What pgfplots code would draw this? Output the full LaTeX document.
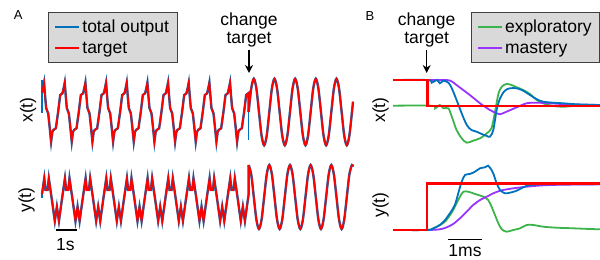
\documentclass[border=0pt]{standalone}
\usepackage{pgfplots}
\usepackage{pgfplotstable}
\pgfplotsset{compat=1.18}
\usetikzlibrary{arrows.meta}
\usepackage{fontspec}
\setmainfont{Liberation Sans}
\definecolor{mblue}{RGB}{0,114,189}
\definecolor{mred}{RGB}{255,0,0}
\definecolor{mgreen}{RGB}{60,180,75}
\definecolor{mpurple}{RGB}{153,51,255}
\definecolor{legfill}{RGB}{217,217,217}
\newcommand\lab{\fontsize{17.5bp}{20bp}\selectfont}

% Panel A, x(t): complex periodic target (t in s)
\pgfplotstableread{
t v
0 19.5
0.05 24
0.10 29.3
0.15 16
0.20 4
0.30 -1.5
0.37 -15
0.44 -29.7
0.50 -20
0.55 -18
0.67 -16.3
0.78 0
0.88 17
0.99 18.7
1.05 24
1.10 29.3
1.15 16
1.20 4
1.30 -1.5
1.37 -15
1.44 -29.7
1.50 -20
1.55 -18
1.67 -16.3
1.78 0
1.88 17
1.99 18.7
2.05 24
2.10 29.3
2.15 16
2.20 4
2.30 -1.5
2.37 -15
2.44 -29.7
2.50 -20
2.55 -18
2.67 -16.3
2.78 0
2.88 17
2.99 18.7
3.05 24
3.10 29.3
3.15 16
3.20 4
3.30 -1.5
3.37 -15
3.44 -29.7
3.50 -20
3.55 -18
3.67 -16.3
3.78 0
3.88 17
3.99 18.7
4.05 24
4.10 29.3
4.15 16
4.20 4
4.30 -1.5
4.37 -15
4.44 -29.7
4.50 -20
4.55 -18
4.67 -16.3
4.78 0
4.88 17
4.99 18.7
5.05 24
5.10 29.3
5.15 16
5.20 4
5.30 -1.5
5.37 -15
5.44 -29.7
5.50 -20
5.55 -18
5.67 -16.3
5.78 0
5.88 17
5.99 18.7
6.05 24
6.10 29.3
6.15 16
6.20 4
6.30 -1.5
6.37 -15
6.44 -29.7
6.50 -20
6.55 -18
6.67 -16.3
6.78 0
6.88 17
6.99 18.7
7.05 24
7.10 29.3
7.15 16
7.20 4
7.30 -1.5
7.37 -15
7.44 -29.7
7.50 -20
7.55 -18
7.67 -16.3
7.78 0
7.88 17
7.99 18.7
8.05 24
8.10 29.3
8.15 16
8.20 4
8.30 -1.5
8.37 -15
8.44 -29.7
8.50 -20
8.55 -18
8.67 -16.3
8.78 0
8.88 17
8.99 18.7
9.05 24
9.10 29.3
9.15 16
9.20 4
9.30 -1.5
9.37 -15
9.44 -29.7
9.50 -20
9.55 -18
9.67 -16.3
9.78 0
9.88 17
10.0 19
10.0 0
}\axc

\pgfplotstableread{
t v
10.000 0
10.125 23.5
10.250 33.3
10.375 23.5
10.500 0
10.625 -23.5
10.750 -33.3
10.875 -23.5
11.000 0
11.125 23.5
11.250 33.3
11.375 23.5
11.500 0
11.625 -23.5
11.750 -33.3
11.875 -23.5
12.000 0
12.125 23.5
12.250 33.3
12.375 23.5
12.500 0
12.625 -23.5
12.750 -33.3
12.875 -23.5
13.000 0
13.125 23.5
13.250 33.3
13.375 23.5
13.500 0
13.625 -23.5
13.750 -33.3
13.875 -23.5
14.000 0
14.125 23.5
14.250 33.3
14.375 23.5
14.500 0
14.625 -23.5
14.750 -33.3
14.875 -23.5
15.000 0
15.050 10.3
}\axs

% Panel A, y(t)
\pgfplotstableread{
t v
0 2.8
0.11 18.7
0.17 7
0.27 7
0.33 18.7
0.48 -3
0.62 -24
0.72 -9.7
0.82 -24
0.96 -3
1.11 18.7
1.17 7
1.27 7
1.33 18.7
1.48 -3
1.62 -24
1.72 -9.7
1.82 -24
1.96 -3
2.11 18.7
2.17 7
2.27 7
2.33 18.7
2.48 -3
2.62 -24
2.72 -9.7
2.82 -24
2.96 -3
3.11 18.7
3.17 7
3.27 7
3.33 18.7
3.48 -3
3.62 -24
3.72 -9.7
3.82 -24
3.96 -3
4.11 18.7
4.17 7
4.27 7
4.33 18.7
4.48 -3
4.62 -24
4.72 -9.7
4.82 -24
4.96 -3
5.11 18.7
5.17 7
5.27 7
5.33 18.7
5.48 -3
5.62 -24
5.72 -9.7
5.82 -24
5.96 -3
6.11 18.7
6.17 7
6.27 7
6.33 18.7
6.48 -3
6.62 -24
6.72 -9.7
6.82 -24
6.96 -3
7.11 18.7
7.17 7
7.27 7
7.33 18.7
7.48 -3
7.62 -24
7.72 -9.7
7.82 -24
7.96 -3
8.11 18.7
8.17 7
8.27 7
8.33 18.7
8.48 -3
8.62 -24
8.72 -9.7
8.82 -24
8.96 -3
9.11 18.7
9.17 7
9.27 7
9.33 18.7
9.48 -3
9.62 -24
9.72 -9.7
9.82 -24
9.96 -3
10.0 2.8
10.0 32
}\ayc

\pgfplotstableread{
t v
10.000 32
10.125 22.6
10.250 0
10.375 -22.6
10.500 -32
10.625 -22.6
10.750 0
10.875 22.6
11.000 32
11.125 22.6
11.250 0
11.375 -22.6
11.500 -32
11.625 -22.6
11.750 0
11.875 22.6
12.000 32
12.125 22.6
12.250 0
12.375 -22.6
12.500 -32
12.625 -22.6
12.750 0
12.875 22.6
13.000 32
13.125 22.6
13.250 0
13.375 -22.6
13.500 -32
13.625 -22.6
13.750 0
13.875 22.6
14.000 32
14.125 22.6
14.250 0
14.375 -22.6
14.500 -32
14.625 -22.6
14.750 0
14.875 22.6
15.000 32
15.050 30.4
}\ays

% Panel B, x(t) (t in ms)
\pgfplotstableread{
t v
0 26
1.01 26
1.01 0
6.09 0
}\bxred
\pgfplotstableread{
t v
0 26
1.01 26
1.58 26
1.73 24.5
1.87 21
2.26 11
2.56 2.7
2.85 -4
3.05 -7.3
3.15 -8.3
3.34 -5.7
3.64 -1.3
3.93 2.7
4.23 3.3
4.62 2.7
5.11 1.7
5.6 1.3
6.09 1
}\bxpur
\pgfplotstableread{
t v
0 26
1.02 26
1.14 23.3
1.29 26
1.38 22.7
1.48 25.3
1.63 23.3
1.73 17.7
1.87 6
2.02 -7.3
2.17 -19
2.31 -24
2.46 -25.7
2.61 -28
2.76 -30
2.85 -30.7
2.95 -24
3.05 -4
3.15 7.7
3.29 15.3
3.44 17.7
3.64 17.7
3.83 15.3
4.03 11
4.23 6.7
4.42 4.3
4.71 3.3
5.01 2.7
5.4 1.7
5.79 1.3
6.09 1
}\bxblue
\pgfplotstableread{
t v
0 0.3
1.14 0.3
1.24 -2.3
1.38 1
1.48 -2.3
1.63 -2.3
1.73 -10.7
1.87 -24
2.02 -32.3
2.17 -36.7
2.36 -34.7
2.56 -32.3
2.76 -27.3
2.9 -22
3.0 -6
3.1 12
3.2 19.3
3.34 22
3.49 21
3.64 18.7
3.83 16
4.03 12
4.23 6
4.42 2.7
4.71 0
5.01 -0.7
5.3 0
5.6 0.7
6.09 0.7
}\bxgreen

% Panel B, y(t)
\pgfplotstableread{
t v
0 0
1.0 0
1.0 46.7
6.09 46.7
}\byred
\pgfplotstableread{
t v
0 0
1.0 0
1.19 1.7
1.38 5
1.53 8.3
1.68 15
1.77 20
1.87 26.7
1.97 33.3
2.07 38.3
2.21 38.3
2.36 36.7
2.51 35
2.66 33.3
2.8 30
2.9 23.3
3.0 15
3.1 6.7
3.2 0.7
3.34 -1.7
3.54 0
3.74 1.7
3.93 5
4.13 5
4.42 3.3
4.81 2.3
5.3 1.7
5.79 1
6.09 0.7
}\bygreen
\pgfplotstableread{
t v
0 0
1.0 0
1.19 1.7
1.38 5
1.53 10
1.68 17
1.82 25
1.92 36.7
2.02 48.3
2.12 55
2.26 56
2.41 58.3
2.56 61.7
2.71 62.7
2.8 64.3
2.9 60
2.95 56.7
3.05 46.7
3.15 40
3.29 36.7
3.44 37.3
3.64 39.3
3.83 42.7
4.03 45
4.42 45.7
5.01 45.7
6.09 45.7
}\byblue
\pgfplotstableread{
t v
0 0
1.0 0
1.38 0.7
1.58 2.7
1.77 6
1.97 11.7
2.17 18.3
2.36 25
2.56 30
2.76 33.3
2.95 36.7
3.15 39.3
3.24 40
3.54 41.7
3.93 43.3
4.42 44.7
5.01 45.3
6.09 45.7
}\bypur

\begin{document}
\begin{tikzpicture}
\useasboundingbox (0bp,0bp) rectangle (600bp,260bp);
\pgfplotsset{every axis/.append style={scale only axis, hide axis, enlargelimits=false, clip=false, anchor=south west},
  legend image code/.code={\draw[#1, line width=2bp] (0bp,0bp) -- (24bp,0bp);}}

% ---------------- Panel A x(t)
\begin{axis}[at={(42bp,112bp)}, width=311bp, height=72bp,
  xmin=0, xmax=15.05, ymin=-36, ymax=36,
  legend style={at={(0.0193,1.893)}, anchor=north west, fill=legfill, draw=black!75,
    line width=0.8bp, font=\lab, inner xsep=6bp, inner ysep=5.5bp, row sep=4bp, cells={anchor=west}}]
\addplot[mblue, line width=2.4bp] table {\axc};
\addlegendentry{total output}
\addplot[mblue, line width=2.4bp, smooth, forget plot] table {\axs};
\addplot[mblue, line width=1.6bp, forget plot] coordinates {(0,32) (0,-1)};
\addplot[mblue, line width=1.6bp, forget plot] coordinates {(10,0) (10,-28)};
\addplot[mred, line width=1.7bp] table {\axc};
\addlegendentry{target}
\addplot[mred, line width=1.7bp, smooth, forget plot] table {\axs};
\end{axis}

% ---------------- Panel A y(t)
\begin{axis}[at={(42bp,27bp)}, width=311bp, height=72bp,
  xmin=0, xmax=15.05, ymin=-36, ymax=36]
\addplot[mblue, line width=2.4bp] table {\ayc};
\addplot[mblue, line width=2.4bp, smooth] table {\ays};
\addplot[mblue, line width=1.6bp] coordinates {(0,-1.3) (0,2.8)};
\addplot[mred, line width=1.7bp] table {\ayc};
\addplot[mred, line width=1.7bp, smooth] table {\ays};
% scale bar 1 s
\addplot[black, line width=1.4bp] coordinates {(0.68,-33) (1.70,-33)};
\end{axis}

% ---------------- Panel B x(t)
\begin{axis}[at={(393bp,114bp)}, width=207bp, height=70bp,
  xmin=0, xmax=6.09, ymin=-40, ymax=30,
  legend style={at={(0.375,1.919)}, anchor=north west, fill=legfill, draw=black!75,
    line width=0.8bp, font=\lab, inner xsep=6bp, inner ysep=5.5bp, row sep=4bp, cells={anchor=west}}]
\addplot[mgreen, line width=1.8bp, smooth] table {\bxgreen};
\addlegendentry{exploratory}
\addplot[mpurple, line width=1.8bp, smooth] table {\bxpur};
\addlegendentry{mastery}
\addplot[mblue, line width=1.8bp, smooth, forget plot] table {\bxblue};
\addplot[mred, line width=2.4bp, forget plot] table {\bxred};
\end{axis}

% ---------------- Panel B y(t)
\begin{axis}[at={(393bp,25bp)}, width=207bp, height=75bp,
  xmin=0, xmax=6.09, ymin=-5, ymax=70]
\addplot[mgreen, line width=1.8bp, smooth] table {\bygreen};
\addplot[mpurple, line width=1.8bp, smooth] table {\bypur};
\addplot[mblue, line width=1.8bp, smooth] table {\byblue};
\addplot[mred, line width=2.4bp] table {\byred};
% scale bar 1 ms
\addplot[black, line width=1.4bp] coordinates {(1.62,-9.3) (2.62,-9.3)};
\end{axis}

% ---------------- annotations
\node[font=\fontsize{13bp}{15bp}\selectfont] at (18.3bp,245.3bp) {A};
\node[font=\fontsize{13bp}{15bp}\selectfont] at (370bp,243.8bp) {B};
\node[font=\lab, anchor=base] at (249bp,234.2bp) {change};
\node[font=\lab, anchor=base] at (249bp,216.7bp) {target};
\node[font=\lab, anchor=base] at (426.7bp,234.2bp) {change};
\node[font=\lab, anchor=base] at (426.7bp,216.7bp) {target};
\draw[line width=1.2bp, -{Stealth[length=8bp,width=8bp]}] (249bp,210bp) -- (249bp,187bp);
\draw[line width=1.2bp, -{Stealth[length=8bp,width=8bp]}] (426.7bp,210bp) -- (426.7bp,187bp);
\node[font=\lab, rotate=90] at (28bp,150bp) {x(t)};
\node[font=\lab, rotate=90] at (26.7bp,60bp) {y(t)};
\node[font=\lab, rotate=90] at (380.7bp,150bp) {x(t)};
\node[font=\lab, rotate=90] at (380.7bp,55bp) {y(t)};
\node[font=\lab, anchor=base] at (65.3bp,10bp) {1s};
\node[font=\lab, anchor=base] at (465bp,3.5bp) {1ms};
\end{tikzpicture}
\end{document}
